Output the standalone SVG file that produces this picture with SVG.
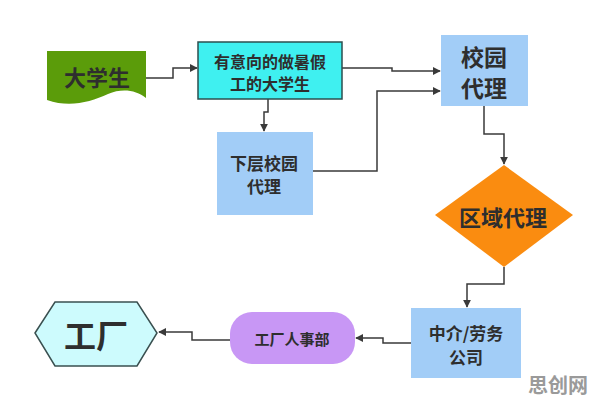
<svg xmlns="http://www.w3.org/2000/svg" width="596" height="401" viewBox="0 0 596 401">
<style>
text{font-family:"Noto Sans CJK SC","Noto Sans",sans-serif;font-weight:bold;fill:#2e2e2e;text-anchor:middle;dominant-baseline:central}
.c{fill:none;stroke:#3a3a3a;stroke-width:1.5;marker-end:url(#a)}
</style>
<defs>
<marker id="a" viewBox="0 0 10 10" refX="9" refY="5" markerWidth="8" markerHeight="8" markerUnits="userSpaceOnUse" orient="auto"><path d="M0,0 L10,5 L0,10 Z" fill="#3a3a3a"/></marker>
</defs>
<rect width="596" height="401" fill="#fff"/>
<g id="connectors">
<path class="c" d="M146,78 H173 V68 H197"/>
<path class="c" d="M342,68 H392 V71 H440"/>
<path class="c" d="M268,99 V112 H264 V131"/>
<path class="c" d="M313,171 H377 V91 H440"/>
<path class="c" d="M484,106 V134 H504 V164"/>
<path class="c" d="M504,267 V284 H467 V307"/>
<path class="c" d="M411,343 H383 V338 H356"/>
<path class="c" d="M230,340 H192 V332 H159"/>
</g>
<g id="n1">
<path d="M47,51 H146 V98 C136,90 122,88 108,94 C90,102 70,108 47,100 Z" fill="#5b9c0a"/>
<text x="97" y="76" font-size="22">大学生</text>
</g>
<g id="n2">
<rect x="198" y="42" width="144" height="57" fill="#3ff0f0" stroke="#2d4f4f" stroke-width="1.5"/>
<text x="270" y="61" font-size="16">有意向的做暑假</text>
<text x="270" y="83" font-size="16">工的大学生</text>
</g>
<g id="n3">
<rect x="441" y="35" width="87" height="71" fill="#a2cdf7"/>
<text x="484" y="56" font-size="23">校园</text>
<text x="484" y="87" font-size="23">代理</text>
</g>
<g id="n4">
<rect x="217" y="132" width="96" height="83" fill="#a2cdf7"/>
<text x="264" y="162" font-size="17">下层校园</text>
<text x="264" y="185" font-size="17">代理</text>
</g>
<g id="n5">
<path d="M504,165 L573,215 L504,267 L435,215 Z" fill="#fa8c10"/>
<text x="503" y="216" font-size="22">区域代理</text>
</g>
<g id="n6">
<rect x="411" y="308" width="110" height="70" fill="#a2cdf7"/>
<text x="466" y="332" font-size="17">中介/劳务</text>
<text x="466" y="356" font-size="17">公司</text>
</g>
<g id="n7">
<rect x="230" y="312" width="125" height="52" rx="22" ry="22" fill="#c897f5"/>
<text x="292" y="338" font-size="15">工厂人事部</text>
</g>
<g id="n8">
<path d="M35,333 L55,302 H137 L157,333 L137,366 H55 Z" fill="#cdfbfd" stroke="#3a5050" stroke-width="1.5"/>
<text x="96" y="334" font-size="32">工厂</text>
</g>
<text x="558" y="384" font-size="20" style="fill:#9a9a9a">思创网</text>
</svg>
